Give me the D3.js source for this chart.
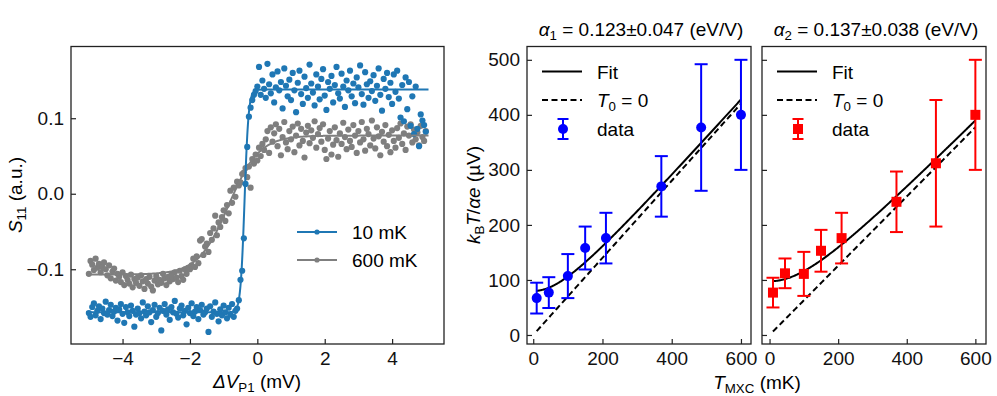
<!DOCTYPE html>
<html><head><meta charset="utf-8">
<script src="https://cdn.jsdelivr.net/npm/d3@7"></script>
<style>body{margin:0;background:#fff} text{font-family:"Liberation Sans",Arial,Helvetica,sans-serif}</style>
</head><body><svg id="c" width="997" height="396"></svg>
<script>
// ---- Data ----
const vStart = -5, vStep = 0.05; // gate sweep ΔV_P1 (mV)
const s11_10mK = [
-0.158,-0.163,-0.150,-0.145,-0.161,-0.155,-0.149,-0.166,-0.152,-0.158,
-0.143,-0.160,-0.154,-0.147,-0.162,-0.156,-0.151,-0.168,-0.153,-0.146,
-0.159,-0.171,-0.150,-0.157,-0.162,-0.148,-0.155,-0.176,-0.160,-0.152,
-0.158,-0.165,-0.144,-0.156,-0.161,-0.149,-0.157,-0.170,-0.154,-0.147,
-0.163,-0.158,-0.151,-0.181,-0.155,-0.146,-0.160,-0.153,-0.167,-0.150,
-0.157,-0.142,-0.159,-0.164,-0.152,-0.148,-0.161,-0.155,-0.173,-0.151,
-0.158,-0.145,-0.162,-0.156,-0.150,-0.166,-0.154,-0.147,-0.160,-0.157,
-0.152,-0.183,-0.149,-0.163,-0.156,-0.144,-0.159,-0.169,-0.153,-0.161,
-0.148,-0.157,-0.165,-0.151,-0.160,-0.146,-0.163,-0.155,
-0.152,-0.141,-0.114,-0.102,-0.059,0.013,0.062,0.102,0.114,0.124,0.131,
0.136,0.142,0.168,0.131,0.150,0.139,0.127,0.172,0.145,0.133,
0.158,0.121,0.141,0.162,0.137,0.148,0.113,0.166,0.143,0.129,
0.151,0.124,0.160,0.137,0.108,0.147,0.163,0.132,0.119,0.155,
0.140,0.127,0.171,0.146,0.134,0.117,0.158,0.142,0.125,0.152,
0.165,0.130,0.111,0.148,0.139,0.156,0.121,0.144,0.168,0.133,
0.126,0.159,0.142,0.115,0.150,0.137,0.163,0.129,0.146,0.120,
0.154,0.141,0.170,0.132,0.118,0.161,0.145,0.127,0.149,0.136,
0.157,0.123,0.143,0.166,0.131,0.110,0.152,0.139,0.160,0.128,
0.147,0.119,0.158,0.135,0.163,0.126,0.101,0.144,0.096,0.154,
0.112,0.148,0.090,0.129,0.079,0.142,0.086,0.063,0.105,0.097,
0.091,0.082];
const s11_600mK = [
-0.106,-0.089,-0.094,-0.101,-0.086,-0.098,-0.093,-0.104,-0.097,-0.091,
-0.100,-0.108,-0.095,-0.112,-0.103,-0.099,-0.115,-0.106,-0.110,-0.117,
-0.104,-0.121,-0.109,-0.114,-0.119,-0.107,-0.124,-0.113,-0.118,-0.111,
-0.122,-0.108,-0.116,-0.126,-0.113,-0.119,-0.110,-0.123,-0.128,-0.115,
-0.109,-0.120,-0.114,-0.118,-0.106,-0.112,-0.121,-0.110,-0.116,-0.107,
-0.113,-0.104,-0.111,-0.117,-0.102,-0.109,-0.114,-0.100,-0.106,-0.098,
-0.100,-0.095,-0.086,-0.097,-0.083,-0.092,-0.062,-0.060,-0.081,-0.070,
-0.066,-0.077,-0.052,-0.061,-0.046,-0.029,-0.055,-0.038,-0.044,-0.031,
-0.022,-0.036,-0.015,-0.026,0.004,-0.012,0.008,-0.004,0.016,0.011,
0.015,0.026,0.028,0.034,0.022,0.036,0.008,0.046,0.040,0.052,
0.044,0.061,0.050,0.066,0.058,0.072,0.083,0.054,0.088,0.069,
0.080,0.092,0.063,0.086,0.051,0.075,0.095,0.068,0.059,0.083,
0.072,0.089,0.055,0.077,0.093,0.064,0.086,0.070,0.048,0.081,
0.090,0.067,0.084,0.074,0.096,0.061,0.079,0.087,0.069,0.092,
0.058,0.046,0.073,0.083,0.052,0.065,0.088,0.071,0.049,0.080,
0.066,0.094,0.075,0.059,0.085,0.070,0.062,0.091,0.077,0.054,
0.083,0.068,0.095,0.072,0.057,0.086,0.079,0.064,0.097,0.073,
0.060,0.088,0.076,0.051,0.082,0.069,0.091,0.063,0.078,0.055,
0.084,0.070,0.061,0.087,0.074,0.093,0.066,0.080,0.058,0.089,
0.077,0.092,0.068,0.085,0.072,0.081,0.064,0.090,0.075,0.070,
0.083];
// fit parameters (step fits)
const fit10 = {low:-0.157, high:0.138, x0:-0.38, w:0.06};
const fit600 = {low:-0.107, high:0.077, x0:-0.85, w:0.45};

const tmxc = [10, 45, 100, 150, 210, 370, 485, 600];        // mK
const kT1 = [67, 77, 107, 158, 176, 270, 377, 400];          // µV
const err1 = [28, 28, 40, 39, 46, 55, 115, 100];
const kT2 = [77, 112, 111, 153, 176, 242, 312, 400];
const err2 = [27, 27, 40, 38, 46, 55, 115, 100];
const alpha1 = 0.123, alpha2 = 0.137;   // eV/V
const T0_1 = 114, T0_2 = 155;           // mK
const kBoverE = 0.08617;                // µV per mK

const leftXTicks = [-4, -2, 0, 2, 4];
const leftYTicks = [-0.1, 0.0, 0.1];
const tXTicks = [0, 200, 400, 600];
const tYTicks = [0, 100, 200, 300, 400, 500];

// ---- Drawing ----
const svg = d3.select("#c");
const FS = 19;
const frameColor = "#222";
const plotTop = 46.5, plotBottom = 344;
const fmtMinus = v => d3.format(".1f")(v).replace("-", "\u2212");

function frame(x0, x1) {
  svg.append("rect").attr("x", x0).attr("y", plotTop).attr("width", x1 - x0).attr("height", plotBottom - plotTop)
    .attr("fill", "none").attr("stroke", frameColor).attr("stroke-width", 1.3);
}
function styleAxis(g) {
  g.select(".domain").remove();
  g.selectAll(".tick line").attr("stroke", frameColor).attr("stroke-width", 1.2);
  g.selectAll(".tick text").attr("font-size", FS).attr("fill", "#111")
    .style("font-family", '"Liberation Sans",Arial,Helvetica,sans-serif');
}

// Left panel
const xL = d3.scaleLinear().domain([-5.53, 5.54]).range([71, 444]);
const yL = d3.scaleLinear().domain([-0.199, 0.195]).range([plotBottom, plotTop]);
svg.append("g").attr("transform", `translate(0,${plotBottom})`)
  .call(d3.axisBottom(xL).tickValues(leftXTicks).tickSize(-5).tickPadding(8).tickFormat(d => String(d).replace("-", "\u2212")))
  .call(styleAxis);
svg.append("g").attr("transform", `translate(71,0)`)
  .call(d3.axisLeft(yL).tickValues(leftYTicks).tickSize(-5).tickPadding(7).tickFormat(fmtMinus))
  .call(styleAxis);

const cBlue = "#1f77b4", cGray = "#7f7f7f";
function dots(arr, color) {
  svg.append("g").selectAll("circle").data(arr).join("circle")
    .attr("cx", (d, i) => xL(vStart + i * vStep)).attr("cy", d => yL(d)).attr("r", 3.1).attr("fill", color);
}
function fermi(p) { return x => p.low + (p.high - p.low) / (1 + Math.exp(-(x - p.x0) / p.w)); }
function fitLine(p, color) {
  const f = fermi(p);
  const xs = d3.range(-5.08, 5.081, 0.01);
  svg.append("path").datum(xs).attr("fill", "none").attr("stroke", color).attr("stroke-width", 2)
    .attr("d", d3.line().x(x => xL(x)).y(x => yL(f(x))));
}
dots(s11_600mK, cGray);
dots(s11_10mK, cBlue);
fitLine(fit600, cGray);
fitLine(fit10, cBlue);
frame(71, 444);

// left legend
[["10 mK", cBlue, 232], ["600 mK", cGray, 260]].forEach(([lab, c, y]) => {
  svg.append("line").attr("x1", 297).attr("x2", 337).attr("y1", y).attr("y2", y).attr("stroke", c).attr("stroke-width", 2);
  svg.append("circle").attr("cx", 317).attr("cy", y).attr("r", 2.6).attr("fill", c);
  svg.append("text").attr("x", 352).attr("y", y + 7).attr("font-size", FS).text(lab);
});

// left axis labels
const yl = svg.append("text").attr("transform", "translate(22,195) rotate(-90)").attr("text-anchor", "middle").attr("font-size", FS);
yl.append("tspan").attr("font-style", "italic").text("S");
yl.append("tspan").attr("font-size", FS * 0.7).attr("dy", "0.3em").text("11");
yl.append("tspan").attr("dy", "-0.21em").text(" (a.u.)");
const xl = svg.append("text").attr("x", 257).attr("y", 388).attr("text-anchor", "middle").attr("font-size", FS);
xl.append("tspan").attr("font-style", "italic").text("\u0394V");
xl.append("tspan").attr("font-size", FS * 0.7).attr("dy", "0.3em").text("P1");
xl.append("tspan").attr("dy", "-0.21em").text(" (mV)");

// T panels
function tPanel(x0, x1, xdom, vals, errs, alpha, T0, color, marker, showY, sub, titleRest) {
  const x = d3.scaleLinear().domain(xdom).range([x0, x1]);
  const y = d3.scaleLinear().domain([-16.4, 524.2]).range([plotBottom, plotTop]);
  svg.append("g").attr("transform", `translate(0,${plotBottom})`)
    .call(d3.axisBottom(x).tickValues(tXTicks).tickSize(-5).tickPadding(8)).call(styleAxis);
  svg.append("g").attr("transform", `translate(${x0},0)`)
    .call(d3.axisLeft(y).tickValues(tYTicks).tickSize(-5).tickPadding(7).tickFormat(showY ? d3.format("d") : () => ""))
    .call(styleAxis);
  const slope = kBoverE / alpha;
  const Ts = d3.range(10, 600.1, 2);
  svg.append("path").datum(Ts).attr("fill", "none").attr("stroke", "#000").attr("stroke-width", 2)
    .attr("d", d3.line().x(t => x(t)).y(t => y(slope * Math.sqrt(t * t + T0 * T0))));
  svg.append("path").datum(Ts).attr("fill", "none").attr("stroke", "#000").attr("stroke-width", 2)
    .attr("stroke-dasharray", "6,3.5")
    .attr("d", d3.line().x(t => x(t)).y(t => y(slope * t)));
  const g = svg.append("g");
  const cap = 6.5;
  tmxc.forEach((t, i) => {
    const cx = x(t), yv = y(vals[i]), yh = y(vals[i] + errs[i]), ylo = y(vals[i] - errs[i]);
    g.append("line").attr("x1", cx).attr("x2", cx).attr("y1", yh).attr("y2", ylo).attr("stroke", color).attr("stroke-width", 2);
    [yh, ylo].forEach(yy => g.append("line").attr("x1", cx - cap).attr("x2", cx + cap).attr("y1", yy).attr("y2", yy).attr("stroke", color).attr("stroke-width", 2));
    if (marker === "circle") g.append("circle").attr("cx", cx).attr("cy", yv).attr("r", 5).attr("fill", color);
    else g.append("rect").attr("x", cx - 5).attr("y", yv - 5).attr("width", 10).attr("height", 10).attr("fill", color);
  });
  frame(x0, x1);
  // legend
  const lx = x0 + 15;
  svg.append("line").attr("x1", lx).attr("x2", lx + 40).attr("y1", 71.5).attr("y2", 71.5).attr("stroke", "#000").attr("stroke-width", 2);
  svg.append("text").attr("x", lx + 55).attr("y", 78.5).attr("font-size", FS).text("Fit");
  svg.append("line").attr("x1", lx).attr("x2", lx + 40).attr("y1", 100).attr("y2", 100).attr("stroke", "#000").attr("stroke-width", 2).attr("stroke-dasharray", "6,3.5");
  const t0 = svg.append("text").attr("x", lx + 55).attr("y", 107).attr("font-size", FS);
  t0.append("tspan").attr("font-style", "italic").text("T");
  t0.append("tspan").attr("font-size", FS * 0.7).attr("dy", "0.3em").text("0");
  t0.append("tspan").attr("dy", "-0.21em").text(" = 0");
  const mx = lx + 21, my = 129;
  svg.append("line").attr("x1", mx).attr("x2", mx).attr("y1", my - 10).attr("y2", my + 10).attr("stroke", color).attr("stroke-width", 2);
  [my - 10, my + 10].forEach(yy => svg.append("line").attr("x1", mx - 5.5).attr("x2", mx + 5.5).attr("y1", yy).attr("y2", yy).attr("stroke", color).attr("stroke-width", 2));
  if (marker === "circle") svg.append("circle").attr("cx", mx).attr("cy", my).attr("r", 5).attr("fill", color);
  else svg.append("rect").attr("x", mx - 5).attr("y", my - 5).attr("width", 10).attr("height", 10).attr("fill", color);
  svg.append("text").attr("x", lx + 55).attr("y", my + 7).attr("font-size", FS).text("data");
  // title
  const tt = svg.append("text").attr("x", (x0 + x1) / 2 + 2).attr("y", 36).attr("text-anchor", "middle").attr("font-size", FS);
  tt.append("tspan").attr("font-style", "italic").text("\u03B1");
  tt.append("tspan").attr("font-size", FS * 0.7).attr("dy", "0.3em").text(sub);
  tt.append("tspan").attr("dy", "-0.21em").text(titleRest);
}
tPanel(527, 751, [-18, 629], kT1, err1, alpha1, T0_1, "#0000ff", "circle", true, "1", " = 0.123\u00B10.047 (eV/V)");
tPanel(762, 986, [-22, 631], kT2, err2, alpha2, T0_2, "#ff0000", "square", false, "2", " = 0.137\u00B10.038 (eV/V)");

// T axis labels
const kl = svg.append("text").attr("transform", "translate(480,195) rotate(-90)").attr("text-anchor", "middle").attr("font-size", FS);
kl.append("tspan").attr("font-style", "italic").text("k");
kl.append("tspan").attr("font-size", FS * 0.7).attr("dy", "0.3em").text("B");
kl.append("tspan").attr("dy", "-0.21em").attr("font-style", "italic").text("T");
kl.append("tspan").text("/");
kl.append("tspan").attr("font-style", "italic").text("\u03B1e");
kl.append("tspan").text(" (\u00B5V)");
const tl = svg.append("text").attr("x", 757).attr("y", 389).attr("text-anchor", "middle").attr("font-size", FS);
tl.append("tspan").attr("font-style", "italic").text("T");
tl.append("tspan").attr("font-size", FS * 0.7).attr("dy", "0.3em").text("MXC");
tl.append("tspan").attr("dy", "-0.21em").text(" (mK)");
</script></body></html>
